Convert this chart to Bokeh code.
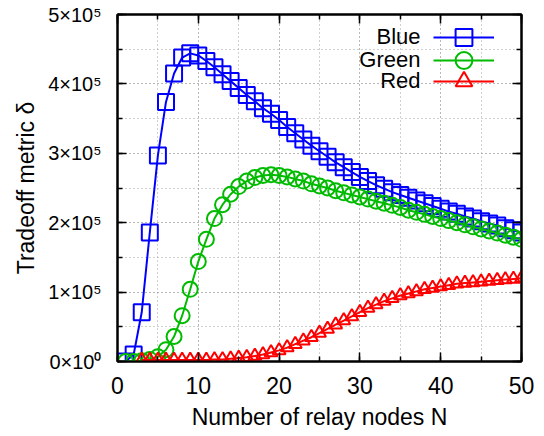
import numpy as np
from bokeh.plotting import figure
from bokeh.models import (LinearAxis, SingleIntervalTicker, Legend, LegendItem,
                          Label, Range1d, CustomJSTickFormatter)
from bokeh.core.properties import value
from bokeh.embed import file_html
from bokeh.resources import INLINE

# ---------------- data (values in units of 1e5) ----------------
n_blue = list(range(1, 51))
blue_e5 = [0.00, 0.10, 0.71, 1.86, 2.97, 3.74, 4.15, 4.38, 4.44, 4.41,
           4.33, 4.24, 4.14, 4.04, 3.94, 3.84, 3.75, 3.65, 3.57, 3.48,
           3.38, 3.29, 3.20, 3.11, 3.03, 2.95, 2.87, 2.80, 2.73, 2.66,
           2.60, 2.54, 2.49, 2.44, 2.40, 2.36, 2.32, 2.28, 2.24, 2.20,
           2.16, 2.13, 2.09, 2.06, 2.02, 1.99, 1.96, 1.92, 1.89, 1.86]

n_green = list(range(1, 51))
green_e5 = [0.00, 0.00, 0.01, 0.03, 0.07, 0.17, 0.36, 0.66, 1.04, 1.44,
            1.76, 2.06, 2.26, 2.41, 2.52, 2.60, 2.65, 2.68, 2.69, 2.68,
            2.66, 2.63, 2.60, 2.56, 2.53, 2.50, 2.46, 2.43, 2.40, 2.37,
            2.34, 2.31, 2.28, 2.25, 2.22, 2.18, 2.15, 2.12, 2.09, 2.06,
            2.03, 2.00, 1.97, 1.94, 1.91, 1.88, 1.85, 1.82, 1.79, 1.76]

n_red = list(range(3, 51))
red_e5 = [0.02, 0.02, 0.02, 0.02, 0.02, 0.02, 0.02, 0.02, 0.02, 0.03,
          0.03, 0.04, 0.05, 0.06, 0.08, 0.10, 0.13, 0.16, 0.20, 0.25,
          0.30, 0.35, 0.41, 0.47, 0.53, 0.59, 0.65, 0.71, 0.77, 0.82,
          0.87, 0.91, 0.95, 0.98, 1.01, 1.04, 1.06, 1.08, 1.10, 1.12,
          1.13, 1.14, 1.15, 1.16, 1.17, 1.18, 1.19, 1.20]

series_names = ["Blue", "Green", "Red"]
y_tick_values = [0, 100000, 200000, 300000, 400000, 500000]
y_tick_labels = ["0×10⁰", "1×10⁵", "2×10⁵", "3×10⁵", "4×10⁵", "5×10⁵"]

blue = np.array(blue_e5) * 1e5
green = np.array(green_e5) * 1e5
red = np.array(red_e5) * 1e5

FONT = "Liberation Sans"
C_BLUE, C_GREEN, C_RED = "#0000ff", "#00bb00", "#ff0000"

p = figure(frame_width=404, frame_height=347,
           x_range=Range1d(0, 50), y_range=Range1d(0, 5e5),
           output_backend="svg", toolbar_location=None,
           min_border_left=117, min_border_right=23,
           min_border_top=14, min_border_bottom=75,
           x_axis_label="Number of relay nodes N",
           y_axis_label="Tradeoff metric δ")
p.outline_line_color = "black"
p.outline_line_width = 2
p.background_fill_color = "white"

xt = SingleIntervalTicker(interval=10, num_minor_ticks=2)
yt = SingleIntervalTicker(interval=1e5, num_minor_ticks=2)
p.xaxis.ticker = xt
p.yaxis.ticker = yt
p.yaxis.major_label_overrides = dict(zip(y_tick_values, y_tick_labels))

def style_axis(ax, labels=True):
    ax.axis_line_color = "black"
    ax.axis_line_width = 2
    ax.major_tick_in = 9
    ax.major_tick_out = 0
    ax.minor_tick_in = 5
    ax.minor_tick_out = 0
    ax.major_tick_line_width = 1.5
    ax.minor_tick_line_width = 1.5
    ax.major_tick_line_color = "black"
    ax.minor_tick_line_color = "black"
    ax.major_label_text_font = FONT
    ax.major_label_text_color = "black"
    ax.axis_label_text_font = FONT
    ax.axis_label_text_font_style = "normal"
    ax.axis_label_text_color = "black"
    ax.axis_label_text_font_size = "23px"
    if not labels:
        ax.formatter = CustomJSTickFormatter(code="return ''")
        ax.major_label_text_font_size = "0px"
        ax.major_label_standoff = 0

for ax in p.xaxis:
    style_axis(ax)
    ax.major_label_text_font_size = "23px"
    ax.major_label_standoff = 15
    ax.axis_label_standoff = 7
for ax in p.yaxis:
    style_axis(ax)
    ax.major_label_text_font_size = "20px"
    ax.major_label_standoff = 16
    ax.axis_label_standoff = 6

top_ax = LinearAxis(ticker=xt)
style_axis(top_ax, labels=False)
p.add_layout(top_ax, "above")
right_ax = LinearAxis(ticker=yt)
style_axis(right_ax, labels=False)
p.add_layout(right_ax, "right")

for g in (p.xgrid, p.ygrid):
    g.grid_line_color = "#a0a0a0"
    g.grid_line_dash = "1 3"
    g.grid_line_width = 1
    g.minor_grid_line_color = "#a0a0a0"
    g.minor_grid_line_dash = "1 3"
    g.minor_grid_line_width = 1

lb = p.line(n_blue, blue, line_color=C_BLUE, line_width=2)
sb = p.scatter(n_blue, blue, marker="square", size=16, fill_color=None,
               line_color=C_BLUE, line_width=2)
lg = p.line(n_green, green, line_color=C_GREEN, line_width=2)
sg = p.scatter(n_green, green, marker="circle", size=15, fill_color=None,
               line_color=C_GREEN, line_width=2)
lr = p.line(n_red, red, line_color=C_RED, line_width=2)
sr = p.scatter(n_red, red, marker="triangle", size=13, fill_color=None,
               line_color=C_RED, line_width=2)

# one small legend per series (key only), text drawn to its left
key_bottoms = [303, 280, 259]
label_ys = [325, 302, 281]
for name, rends, kb, ly in zip(series_names, [[lb, sb], [lg, sg], [lr, sr]],
                               key_bottoms, label_ys):
    leg = Legend(items=[LegendItem(label=value(" "), renderers=rends)],
                 location=(316, kb), margin=0, padding=1,
                 glyph_width=61, glyph_height=42, spacing=0,
                 label_width=25, label_standoff=0, label_height=20,
                 label_text_font_size="1px",
                 border_line_color=None, background_fill_alpha=0)
    p.add_layout(leg)
    p.add_layout(Label(x=303, y=ly, x_units="screen", y_units="screen",
                       text=name, text_align="right", text_baseline="middle",
                       text_font=FONT, text_font_size="22px",
                       text_color="black"))

open("out.html", "w").write(file_html(p, INLINE))
